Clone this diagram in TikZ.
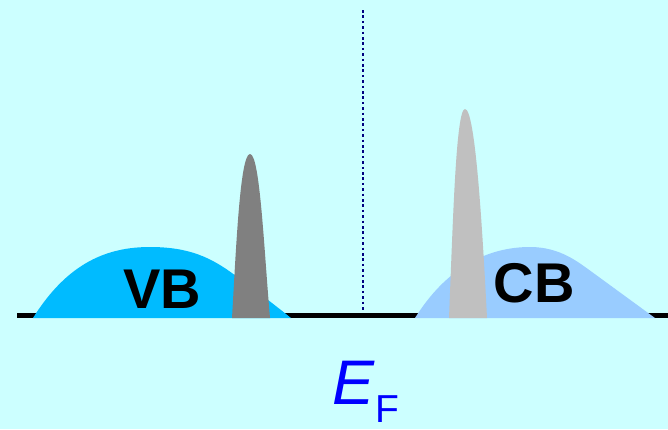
\documentclass[tikz,border=0pt]{standalone}
\usepackage{fontspec}
\setmainfont{Liberation Sans}
\usepackage{xcolor}
\usetikzlibrary{positioning}
\definecolor{sky}{HTML}{CCFFFF}
\definecolor{vband}{HTML}{00BBFF}
\definecolor{cband}{HTML}{99CCFF}
\definecolor{vpeak}{HTML}{808080}
\definecolor{cpeak}{HTML}{C0C0C0}
\definecolor{navy}{HTML}{000080}
\definecolor{fermi}{HTML}{0000FF}
\tikzset{
  band/.style={fill=#1,draw=none},
  peak/.style={fill=#1,draw=none},
  axisline/.style={line width=4.5pt,draw=black},
  fermiline/.style={draw=navy,line width=2.4pt,dash pattern=on 2.6pt off 2.8pt},
  bandlabel/.style={font=\fontsize{56}{56}\selectfont\bfseries,inner sep=0pt,text=black},
  eflabel/.style={font=\fontsize{63}{63}\selectfont,inner sep=0pt,text=fermi}
}
\begin{document}
\begin{tikzpicture}[x=1pt,y=-1pt]
    \fill[sky] (0,0) rectangle (668,429);
    \useasboundingbox (0,0) rectangle (668,429);

    \draw[axisline] (17,315.5) -- (668,315.5);
    \draw[fermiline] (363,10) -- (363,312);

    % valence band
    \fill[band=vband] (33,318) .. controls (68,262) and (108,247) .. (150,247)
      .. controls (190,247) and (212,258) .. (236,276)
      .. controls (258,292) and (276,306) .. (291,318) -- cycle;
    % conduction band
    \fill[band=cband] (415,318) .. controls (445,270) and (485,247) .. (530,247)
      .. controls (560,247) and (578,262) .. (592,272)
      -- (655,318) -- cycle;

    \fill[peak=vpeak] (232,318) .. controls (236,250) and (240,154) .. (250,154)
      .. controls (260,154) and (264,250) .. (270,318) -- cycle;
    \fill[peak=cpeak] (449,318) .. controls (453,220) and (456,109) .. (465,109)
      .. controls (475,109) and (482,220) .. (487,318) -- cycle;

    \node[bandlabel,anchor=base] (vb) at (162,308) {VB};
    \node[bandlabel,anchor=base] (cb) at (534,302) {CB};
    \node[eflabel,anchor=base] (ef) at (366,404) {\textit{E}\raisebox{-0.3em}{\fontsize{39}{39}\selectfont F}};
\end{tikzpicture}
\end{document}
